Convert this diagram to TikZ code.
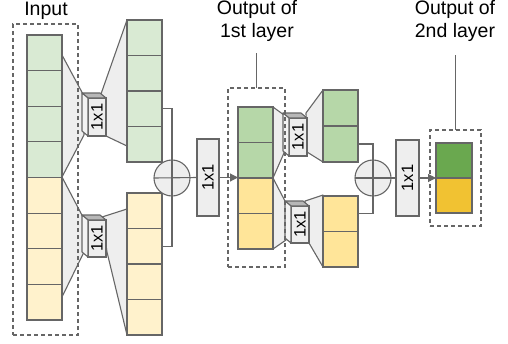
\documentclass[tikz,border=0pt]{standalone}
\usepackage{fontspec}
\setmainfont{Liberation Sans}
\usepackage{graphicx}
\usetikzlibrary{arrows.meta}
\definecolor{ln}{HTML}{666666}
\definecolor{gA}{HTML}{D9EAD3}
\definecolor{yA}{HTML}{FFF2CC}
\definecolor{gB}{HTML}{B6D7A8}
\definecolor{yB}{HTML}{FFE599}
\definecolor{gC}{HTML}{6AA84F}
\definecolor{yC}{HTML}{F1C232}
\definecolor{fn}{HTML}{EEEEEE}
\definecolor{tp}{HTML}{B7B7B7}
\definecolor{sd}{HTML}{F3F3F3}
\begin{document}
\begin{tikzpicture}[x=1pt,y=-1pt,
  every node/.style={inner sep=0pt, outer sep=0pt},
  line/.style={draw=ln, line width=1.1pt},
  cell/.style={line, minimum width=35pt, anchor=north west},
  funnel/.style={line, fill=fn, line join=round},
  sbox/.style={line, fill=fn, minimum width=18pt, anchor=north west, font=\fontsize{16.5}{18}\selectfont},
  topface/.style={line, fill=tp, line join=round},
  sideface/.style={line, fill=sd, line join=round},
  bbox/.style={line, fill=fn, font=\fontsize{16.5}{18}\selectfont},
  plus/.style={line, fill=fn, circle, minimum size=36pt},
  dashbox/.style={draw=ln, line width=1.1pt, dash pattern=on 4pt off 3pt},
  lbl/.style={font=\fontsize{19.5}{22.5}\selectfont, align=center, text=black},
  arr/.style={line, -{Triangle[length=8pt,width=8pt]}}]
\useasboundingbox (0,0) rectangle (508,343);

% funnels
\draw[funnel] (62,55) -- (84,96) -- (84,135) -- (62,177) -- cycle;
\draw[funnel] (101,94) -- (127,20) -- (127,146) -- (106,136) -- cycle;
\draw[funnel] (62,177) -- (84,219) -- (84,252) -- (62,297) -- cycle;
\draw[funnel] (102,217) -- (127,209) -- (127,335) -- (107,252) -- cycle;
\draw[funnel] (273,107) -- (284,115) -- (284,153) -- (273,178) -- cycle;
\draw[funnel] (306,113) -- (323,90) -- (323,162) -- (307,152) -- cycle;
\draw[funnel] (273,178) -- (286,203) -- (286,240) -- (273,249) -- cycle;
\draw[funnel] (305,201) -- (323,195) -- (323,267) -- (309,243) -- cycle;

% stacks
\foreach \i/\c in {1/gA,2/gA,3/gA,4/gA,5/yA,6/yA,7/yA,8/yA}
  \node[cell, fill=\c, minimum height=35.625pt] (in\i) at (27,{35+(\i-1)*35.625}) {};
\foreach \i in {1,...,4}
  \node[cell, fill=gA, minimum height=35.5pt] (ua\i) at (127,{20+(\i-1)*35.5}) {};
\foreach \i in {1,...,4}
  \node[cell, fill=yA, minimum height=35.5pt] (la\i) at (127,{193+(\i-1)*35.5}) {};
\foreach \i/\c in {1/gB,2/gB,3/yB,4/yB}
  \node[cell, fill=\c, minimum height=35.5pt] (m\i) at (238,{107+(\i-1)*35.5}) {};
\foreach \i in {1,2}
  \node[cell, fill=gB, minimum height=36pt] (ub\i) at (323,{90+(\i-1)*36}) {};
\foreach \i in {1,2}
  \node[cell, fill=yB, minimum height=35.5pt] (lb\i) at (323,{196+(\i-1)*35.5}) {};
\node[cell, fill=gC, minimum width=36pt, minimum height=35pt] (f1) at (436,143) {};
\node[cell, fill=yC, minimum width=36pt, minimum height=35pt] (f2) at (436,178) {};

% small 3D boxes
\foreach \n/\x/\y/\h in {s1/88/98/38, s2/88/220/37, s3/289/118/38, s4/291/206/37}{
  \node[sbox, minimum height=\h pt] (\n) at (\x,\y) {\rotatebox{90}{1x1}};
  \draw[topface] (\n.north west) -- ++(-6,-5) -- ++(18,0) -- (\n.north east) -- cycle;
  \draw[sideface] (\n.north west) -- ++(-6,-5) -- ++(0,\h) -- (\n.south west) -- cycle;
}

% dashed boxes
\node[dashbox, minimum width=65pt, minimum height=311pt] (d1) at (45.5,179.5) {};
\node[dashbox, minimum width=57pt, minimum height=179pt] (d2) at (256.5,177.5) {};
\node[dashbox, minimum width=51pt, minimum height=96pt] (d3) at (455.5,178) {};

% sum circles and 1x1 boxes
\node[plus] (c1) at (172,178) {};
\node[plus] (c2) at (373,178) {};
\node[bbox, minimum width=22pt, minimum height=77pt] (b1) at (208,177.5) {\rotatebox{90}{1x1}};
\node[bbox, minimum width=23pt, minimum height=76pt] (b2) at (407.5,178) {\rotatebox{90}{1x1}};

% connectors
\draw[line] (ua3.east) -| (c1.center) |- (la2.east);
\draw[line] (c1.west) -- (b1.west);
\draw[arr] (b1.east) -- (b1.east -| m1.west);
\draw[line] (ub2.east) -| (c2.center) |- (lb1.east);
\draw[line] (c2.west) -- (b2.west);
\draw[arr] (b2.east) -- (b2.east -| f1.west);

% labels
\node[lbl, anchor=base] (t0) at (46,15) {Input};
\node[lbl] (t1) at (257,21) {Output of\\1st layer};
\node[lbl] (t2) at (455,21) {Output of\\2nd layer};
\coordinate (k1) at (256.5,53);
\coordinate (k2) at (455.5,55);
\draw[line] (k1) -- (d2.north);
\draw[line] (k2) -- (d3.north);
\end{tikzpicture}
\end{document}
